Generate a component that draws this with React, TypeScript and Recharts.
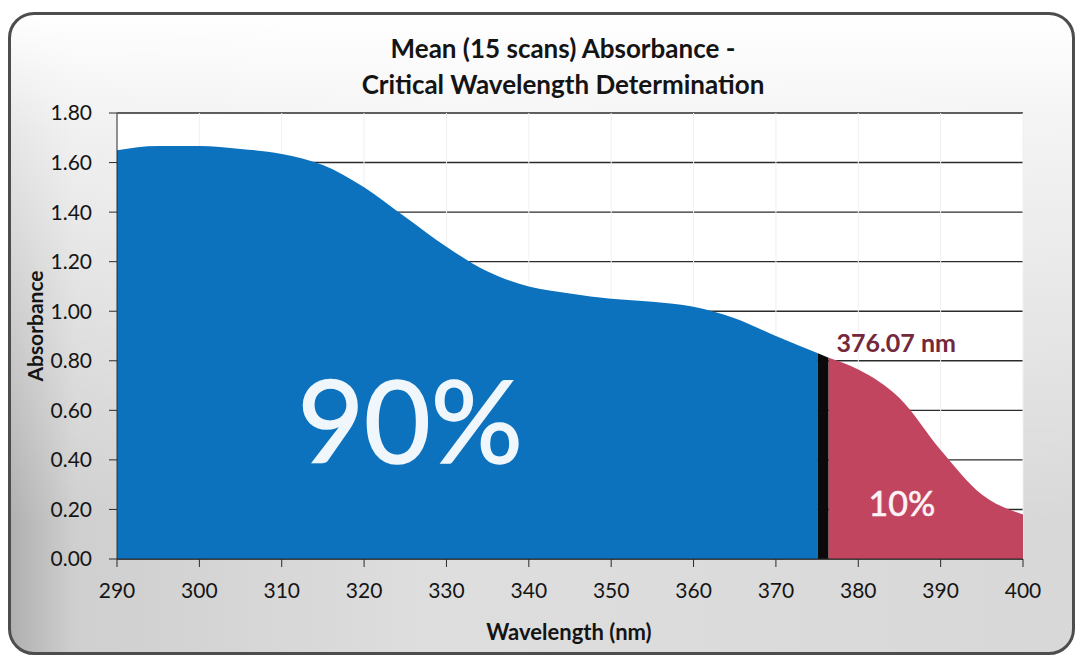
import React from 'react';
import { ComposedChart, Area, XAxis, YAxis, CartesianGrid, ReferenceDot } from 'recharts';

// Wavelength (nm) and mean absorbance
const wavelengths = [290, 295, 300, 305, 310, 315, 320, 325, 330, 335, 340, 345, 350, 355, 360, 365, 370, 375.1, 376.4, 380, 385, 390, 395, 400];
const absorbance = [1.65, 1.667, 1.667, 1.655, 1.635, 1.59, 1.5, 1.38, 1.26, 1.16, 1.1, 1.072, 1.05, 1.038, 1.018, 0.972, 0.9, 0.83, 0.812, 0.765, 0.65, 0.44, 0.26, 0.18];

const cutStart = 375.1; // end of blue (90%) region
const cutEnd = 376.4; // start of red (10%) region

const xTicks = [290, 300, 310, 320, 330, 340, 350, 360, 370, 380, 390, 400];
const yTicks = [0, 0.2, 0.4, 0.6, 0.8, 1.0, 1.2, 1.4, 1.6, 1.8];

const annotations = [
  { x: 325.6, y: 0.57, text: '90%', size: 115, weight: 400, color: '#f0f7fc', sw: 1.5 },
  { x: 385.3, y: 0.23, text: '10%', size: 34, weight: 400, color: '#fbf3f5', sw: 0.6 },
  { x: 384.6, y: 0.876, text: '376.07 nm', size: 25, weight: 700, color: '#74283c', sw: 0 },
];

const data = wavelengths.map((w, i) => ({
  x: w,
  blue: w <= cutStart ? absorbance[i] : null,
  cut: w >= cutStart && w <= cutEnd ? absorbance[i] : null,
  red: w >= cutEnd ? absorbance[i] : null,
}));

const FONT = 'Lato, "Open Sans", sans-serif';

export default function App() {
  return (
    <div style={{ position: 'relative', width: 1068, height: 648, fontFamily: FONT }}>
      <div
        style={{
          position: 'absolute',
          left: 0,
          top: 4,
          width: 1067,
          height: 643,
          boxSizing: 'border-box',
          border: '3px solid #4d4d4d',
          borderRadius: 26,
          background:
            'linear-gradient(to bottom, rgba(255,255,255,1) 0%, rgba(255,255,255,0.7) 18%, rgba(255,255,255,0) 80%), linear-gradient(to right, #b0b0b0 0%, #cfcfcf 6%, #dedede 40%, #d8d8d8 100%)',
        }}
      />
      <div style={{ position: 'absolute', top: 0, left: 0 }}>
        <ComposedChart width={1068} height={648} data={data} margin={{ top: 105, right: 53, bottom: 37, left: 29 }}>
          <CartesianGrid fill="#ffffff" stroke="#2b2b2b" strokeWidth={1.4} vertical={false} />
          <CartesianGrid fill="none" stroke="#f0f0f0" strokeWidth={1} horizontal={false} />
          <XAxis
            type="number"
            dataKey="x"
            domain={[290, 400]}
            ticks={xTicks}
            allowDataOverflow
            height={60}
            tickSize={8}
            tickMargin={16}
            stroke="#2b2b2b"
            tick={{ fill: '#151515', fontSize: 21, fontFamily: FONT }}
          />
          <YAxis
            type="number"
            domain={[0, 1.8]}
            ticks={yTicks}
            width={80}
            tickSize={8}
            tickMargin={17}
            stroke="#2b2b2b"
            tickFormatter={(v: number) => v.toFixed(2)}
            tick={{ fill: '#151515', fontSize: 21, fontFamily: FONT }}
          />
          <Area type="monotone" dataKey="blue" stroke="none" fill="#0d72be" fillOpacity={1} isAnimationActive={false} connectNulls={false} />
          <Area type="monotone" dataKey="cut" stroke="none" fill="#0a0a0a" fillOpacity={1} isAnimationActive={false} connectNulls={false} />
          <Area type="monotone" dataKey="red" stroke="none" fill="#c2455f" fillOpacity={1} isAnimationActive={false} connectNulls={false} />
          {annotations.map((a) => (
            <ReferenceDot
              key={a.text}
              x={a.x}
              y={a.y}
              r={0}
              isFront
              shape={(p: any) => (
                <text
                  x={p.cx}
                  y={p.cy}
                  textAnchor="middle"
                  dominantBaseline="central"
                  fontFamily={FONT}
                  fontSize={a.size}
                  fontWeight={a.weight}
                  fill={a.color}
                  stroke={a.sw ? a.color : 'none'}
                  strokeWidth={a.sw}
                >
                  {a.text}
                </text>
              )}
            />
          ))}
        </ComposedChart>
      </div>
      <div
        style={{
          position: 'absolute',
          left: 255,
          width: 600,
          top: 22,
          textAlign: 'center',
          fontWeight: 700,
          fontSize: 26,
          lineHeight: '36px',
          color: '#141414',
        }}
      >
        <div>Mean (15 scans) Absorbance -</div>
        <div>Critical Wavelength Determination</div>
      </div>
      <div
        style={{
          position: 'absolute',
          left: 27 - 70,
          top: 318 - 12,
          width: 140,
          height: 24,
          lineHeight: '24px',
          textAlign: 'center',
          transform: 'rotate(-90deg)',
          fontWeight: 700,
          fontSize: 21,
          color: '#141414',
        }}
      >
        Absorbance
      </div>
      <div
        style={{
          position: 'absolute',
          left: 561 - 150,
          top: 624 - 14,
          width: 300,
          lineHeight: '28px',
          textAlign: 'center',
          fontWeight: 700,
          fontSize: 22,
          color: '#141414',
        }}
      >
        Wavelength (nm)
      </div>
    </div>
  );
}
